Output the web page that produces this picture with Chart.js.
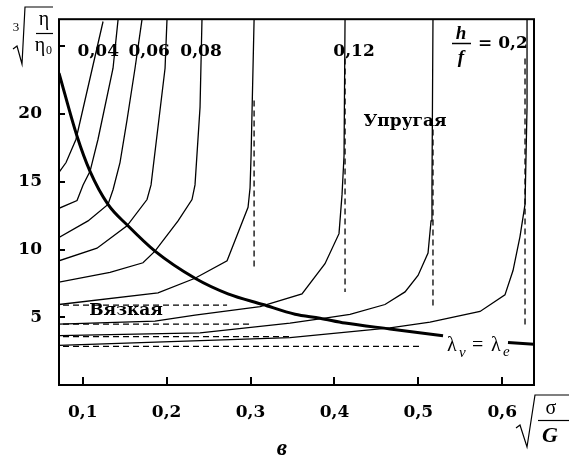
<!DOCTYPE html>
<html>
<head>
<meta charset="utf-8">
<script src="https://cdn.jsdelivr.net/npm/chart.js@4.4.1/dist/chart.umd.min.js"></script>
<style>
  html, body { margin: 0; padding: 0; background: #fff; }
  #wrap { width: 569px; height: 456px; position: relative; }
</style>
</head>
<body>
<div id="wrap"><canvas id="chart"></canvas></div>
<script>
// axes: x = sqrt(sigma/G), y = cube root of eta/eta0
const X_MIN = 0.0717, X_MAX = 0.6378;
const Y_MIN = 0, Y_MAX = 27;
const xTicks = [0.1, 0.2, 0.3, 0.4, 0.5, 0.6];
const yTicks = [5, 10, 15, 20, 25];
const yTickLabels = ["5", "10", "15", "20", ""];

// h/f curves, left to right
const curve1X = [0.0717, 0.0801, 0.0920, 0.1242];
const curve1Y = [15.70, 16.42, 18.14, 26.83];
const curve2X = [0.0717, 0.0932, 0.1004, 0.1087, 0.1182, 0.1361, 0.1421];
const curve2Y = [13.04, 13.62, 14.77, 15.77, 18.14, 23.38, 26.97];
const curve3X = [0.0717, 0.1063, 0.1301, 0.1361, 0.1444, 0.1528, 0.1623, 0.1706];
const curve3Y = [10.89, 12.11, 13.33, 14.41, 16.42, 19.57, 23.38, 26.97];
const curve4X = [0.0717, 0.1170, 0.1528, 0.1766, 0.1814, 0.1981, 0.2004];
const curve4Y = [9.17, 10.10, 11.75, 13.69, 14.77, 23.38, 26.97];
const curve5X = [0.0717, 0.1325, 0.1718, 0.1861, 0.2136, 0.2302, 0.2338, 0.2398, 0.2421];
const curve5Y = [7.59, 8.31, 9.02, 9.88, 12.11, 13.69, 14.77, 20.51, 26.97];
const curve6X = [0.0717, 0.1897, 0.2338, 0.2720, 0.2970, 0.2994, 0.3006, 0.3042];
const curve6Y = [5.94, 6.80, 7.88, 9.17, 13.12, 14.55, 16.92, 26.97];
const curve7X = [0.0717, 0.1861, 0.2338, 0.3113, 0.3613, 0.3887, 0.4054, 0.4090, 0.4114, 0.4126];
const curve7Y = [4.50, 4.72, 5.15, 5.79, 6.73, 8.95, 11.17, 14.05, 16.92, 26.97];
const curve8X = [0.0717, 0.2398, 0.3470, 0.3887, 0.4185, 0.4602, 0.4841, 0.4996, 0.5115, 0.5151, 0.5162, 0.5174];
const curve8Y = [3.64, 3.85, 4.57, 4.93, 5.22, 5.94, 6.87, 8.09, 9.74, 12.11, 14.55, 26.97];
const curve9X = [0.0717, 0.3470, 0.4662, 0.5139, 0.5735, 0.6032, 0.6128, 0.6211, 0.6271, 0.6295, 0.6295];
const curve9Y = [2.92, 3.50, 4.21, 4.64, 5.43, 6.65, 8.45, 10.96, 13.33, 20.51, 26.97];

// lambda_v = lambda_e boundary (broken by its label)
const lambdaX = [0.0717, 0.0932, 0.1087, 0.1301, 0.1539, 0.1861, 0.2338, 0.2731, 0.3148, 0.3530, 0.3828, 0.4126, 0.4662, 0.5294];
const lambdaY = [23.02, 18.36, 15.77, 13.33, 11.75, 9.88, 7.88, 6.73, 5.94, 5.22, 4.93, 4.57, 4.14, 3.64];
const lambdaTailX = [0.6068, 0.6378];
const lambdaTailY = [3.14, 3.00];

// dashed asymptotes
const asymH1X = [0.0765, 0.2720], asymH1Y = [5.90, 5.90];
const asymH2X = [0.0765, 0.3030], asymH2Y = [4.50, 4.50];
const asymH3X = [0.0765, 0.3494], asymH3Y = [3.57, 3.57];
const asymH4X = [0.0765, 0.5055], asymH4Y = [2.85, 2.85];
const asymV1X = [0.3042, 0.3042], asymV1Y = [21.0, 8.66];
const asymV2X = [0.4126, 0.4126], asymV2Y = [24.1, 6.87];
const asymV3X = [0.5174, 0.5174], asymV3Y = [18.86, 5.58];
const asymV4X = [0.6271, 0.6271], asymV4Y = [24.1, 4.22];

function pts(xs, ys) {
  return xs.map((x, i) => ({ x: x, y: ys[i] }));
}

function solid(xs, ys, w) {
  return { data: pts(xs, ys), showLine: true, borderColor: "#000", borderWidth: w || 1.3,
           pointRadius: 0, tension: 0, fill: false };
}

function dashed(xs, ys) {
  return { data: pts(xs, ys), showLine: true, borderColor: "#000", borderWidth: 1.3,
           borderDash: [6, 4], pointRadius: 0, tension: 0, fill: false };
}

const lambdaLine = solid(lambdaX, lambdaY, 3);
lambdaLine.cubicInterpolationMode = "monotone";

const datasets = [
  solid(curve1X, curve1Y), solid(curve2X, curve2Y), solid(curve3X, curve3Y),
  solid(curve4X, curve4Y), solid(curve5X, curve5Y), solid(curve6X, curve6Y),
  solid(curve7X, curve7Y), solid(curve8X, curve8Y), solid(curve9X, curve9Y),
  lambdaLine, solid(lambdaTailX, lambdaTailY, 3),
  dashed(asymH1X, asymH1Y), dashed(asymH2X, asymH2Y), dashed(asymH3X, asymH3Y), dashed(asymH4X, asymH4Y),
  dashed(asymV1X, asymV1Y), dashed(asymV2X, asymV2Y), dashed(asymV3X, asymV3Y), dashed(asymV4X, asymV4Y)
];

const BOLD = 'bold 17px "DejaVu Serif"';

// text inside the plot, in data coordinates
const plotLabels = [
  { text: "0,04", x: 0.1185, y: 24.6, font: BOLD },
  { text: "0,06", x: 0.1792, y: 24.6, font: BOLD },
  { text: "0,08", x: 0.2410, y: 24.6, font: BOLD },
  { text: "0,12", x: 0.4233, y: 24.6, font: BOLD },
  { text: "Упругая", x: 0.4841, y: 19.44, font: BOLD },
  { text: "Вязкая", x: 0.1516, y: 5.50, font: BOLD }
];

const decor = {
  id: "decor",
  beforeDraw(chart) {
    const c = chart.ctx;
    c.save();
    c.fillStyle = "#fff";
    c.fillRect(0, 0, chart.width, chart.height);
    c.restore();
  },
  afterDraw(chart) {
    const c = chart.ctx;
    const a = chart.chartArea;
    const sx = chart.scales.x, sy = chart.scales.y;
    c.save();
    c.strokeStyle = "#000";
    c.fillStyle = "#000";

    // frame
    c.lineWidth = 2;
    c.strokeRect(a.left, a.top, a.right - a.left, a.bottom - a.top);

    // inward tick marks
    xTicks.forEach(v => {
      const p = Math.round(sx.getPixelForValue(v));
      c.beginPath(); c.moveTo(p, a.bottom); c.lineTo(p, a.bottom - 8); c.stroke();
    });
    yTicks.forEach(v => {
      const p = Math.round(sy.getPixelForValue(v));
      c.beginPath(); c.moveTo(a.left, p); c.lineTo(a.left + 6, p); c.stroke();
    });

    // labels in the plot
    c.textAlign = "center";
    c.textBaseline = "middle";
    plotLabels.forEach(l => {
      c.font = l.font;
      c.fillText(l.text, sx.getPixelForValue(l.x), sy.getPixelForValue(l.y));
    });

    // h/f = 0,2
    c.font = 'bold italic 19px "Liberation Serif"';
    c.fillText("h", 461, 34);
    c.fillText("f", 461, 58);
    c.lineWidth = 1.5;
    c.beginPath(); c.moveTo(452, 43.5); c.lineTo(471, 43.5); c.stroke();
    c.font = BOLD;
    c.textAlign = "left";
    c.fillText("= 0,2", 478, 44);

    // lambda_v = lambda_e
    c.textBaseline = "alphabetic";
    c.font = '20px "Liberation Serif"';
    c.fillText("λ", 447, 351);
    c.fillText("=", 472, 351);
    c.fillText("λ", 491, 351);
    c.font = 'italic 15px "Liberation Serif"';
    c.fillText("v", 459, 357);
    c.fillText("e", 503, 356);

    // y axis title: cube root of eta/eta0
    c.lineWidth = 1.2;
    c.beginPath();
    c.moveTo(13, 49); c.lineTo(17, 46); c.lineTo(22, 64); c.lineTo(25, 7); c.lineTo(53, 7);
    c.stroke();
    c.beginPath(); c.moveTo(36, 33.5); c.lineTo(53, 33.5); c.stroke();
    c.textAlign = "center";
    c.textBaseline = "middle";
    c.font = '13px "Liberation Serif"';
    c.fillText("3", 16, 28);
    c.font = '20px "Liberation Serif"';
    c.fillText("η", 44, 20);
    c.fillText("η", 40, 46);
    c.font = '12px "Liberation Serif"';
    c.fillText("0", 49, 51);

    // x axis title: sqrt(sigma/G)
    c.beginPath();
    c.moveTo(516, 428); c.lineTo(520, 425); c.lineTo(527, 447); c.lineTo(535, 395); c.lineTo(569, 395);
    c.stroke();
    c.beginPath(); c.moveTo(538, 420.5); c.lineTo(569, 420.5); c.stroke();
    c.font = '20px "Liberation Serif"';
    c.fillText("σ", 551, 409);
    c.font = 'bold italic 22px "Liberation Serif"';
    c.fillText("G", 550, 436);

    // panel letter
    c.font = 'bold italic 23px "Liberation Serif"';
    c.fillText("в", 282, 449);
    c.restore();
  }
};

new Chart(document.getElementById("chart"), {
  type: "scatter",
  data: { datasets: datasets },
  options: {
    responsive: true,
    maintainAspectRatio: false,
    animation: false,
    layout: { padding: { left: 0, right: 35, top: 10, bottom: 0 } },
    plugins: { legend: { display: false }, tooltip: { enabled: false } },
    scales: {
      x: {
        type: "linear", min: X_MIN, max: X_MAX,
        afterBuildTicks: s => { s.ticks = xTicks.map(v => ({ value: v })); },
        afterFit: s => { s.height = 71; },
        grid: { display: false },
        border: { display: false },
        ticks: {
          color: "#000", font: { family: "DejaVu Serif", weight: "bold", size: 17 },
          padding: 9, maxRotation: 0, autoSkip: false,
          callback: v => v.toFixed(1).replace(".", ",")
        }
      },
      y: {
        type: "linear", min: Y_MIN, max: Y_MAX,
        afterBuildTicks: s => { s.ticks = yTicks.map(v => ({ value: v })); },
        afterFit: s => { s.width = 59; },
        grid: { display: false },
        border: { display: false },
        ticks: {
          color: "#000", font: { family: "DejaVu Serif", weight: "bold", size: 17 },
          padding: 9,
          callback: v => yTickLabels[yTicks.indexOf(v)]
        }
      }
    }
  },
  plugins: [decor]
});
</script>
</body>
</html>
